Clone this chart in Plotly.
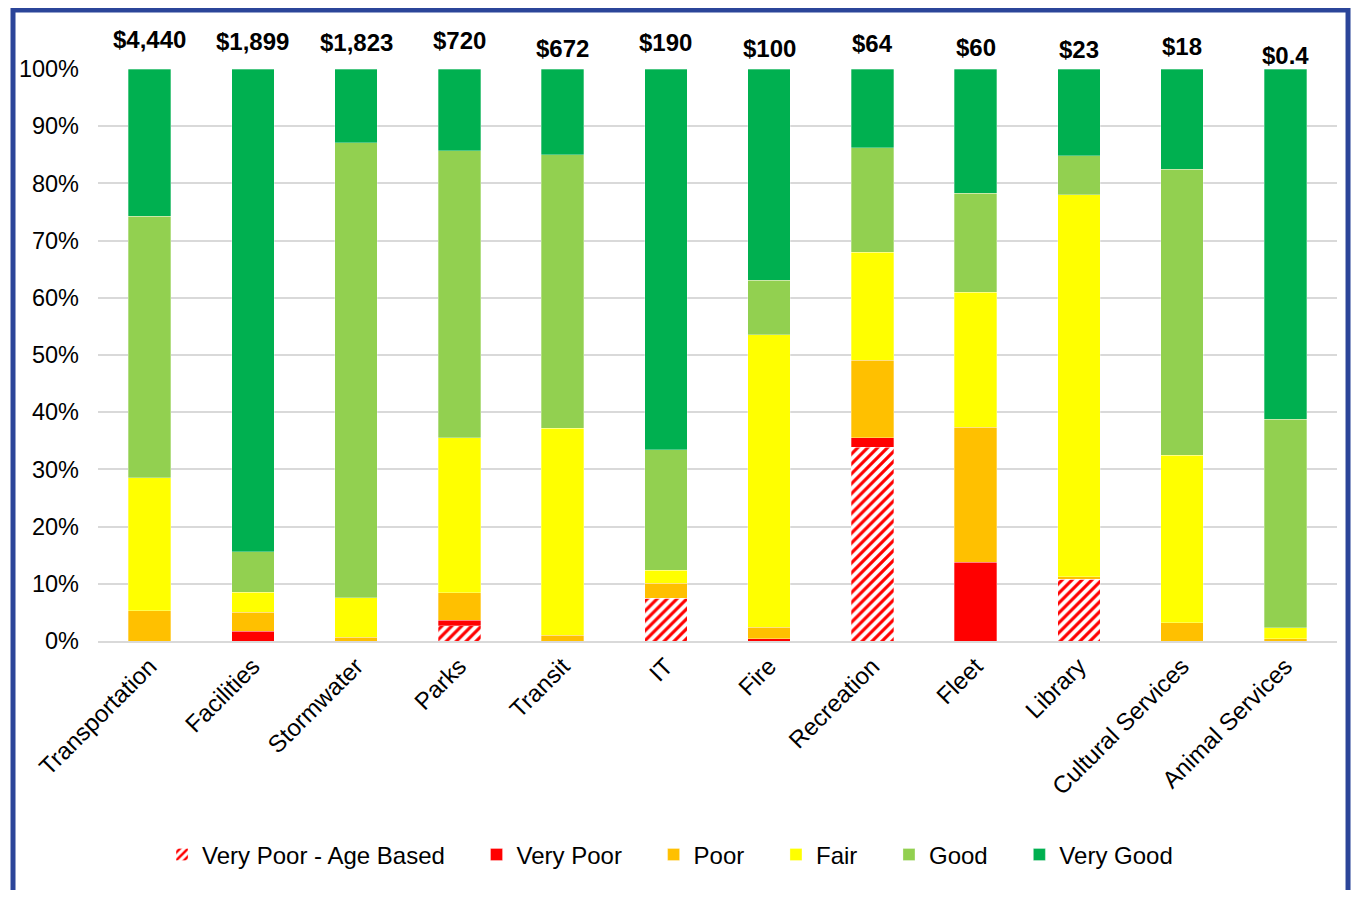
import plotly.graph_objects as go

categories = ["Transportation", "Facilities", "Stormwater", "Parks", "Transit", "IT",
              "Fire", "Recreation", "Fleet", "Library", "Cultural Services", "Animal Services"]
totals = ["$4,440", "$1,899", "$1,823", "$720", "$672", "$190",
          "$100", "$64", "$60", "$23", "$18", "$0.4"]

very_poor_age = [0, 0, 0, 2.7, 0, 7.5, 0, 33.9, 0, 10.8, 0, 0]
very_poor     = [0, 1.7, 0, 0.9, 0, 0, 0.4, 1.6, 13.8, 0, 0, 0]
poor          = [5.3, 3.3, 0.7, 4.8, 1.0, 2.6, 2.0, 13.6, 23.6, 0.4, 3.2, 0.4]
fair          = [23.2, 3.5, 6.9, 27.1, 36.2, 2.3, 51.1, 18.9, 23.6, 66.8, 29.3, 1.9]
good          = [45.8, 7.1, 79.5, 50.2, 47.8, 21.0, 9.6, 18.2, 17.3, 6.8, 50.0, 36.5]
very_good     = [25.7, 84.4, 12.9, 14.3, 15.0, 66.6, 36.9, 13.8, 21.7, 15.2, 17.5, 61.2]

# label vertical offsets (px) to mimic the reference placement
label_shift = [28, 26, 25, 27, 19, 25, 19, 24, 20, 18, 21, 12]

FONT = "Liberation Sans, Arial, sans-serif"
PAD = "\u00a0" * 4

fig = go.Figure()
line = dict(color="rgba(255,255,255,0.6)", width=0.5)

fig.add_trace(go.Bar(x=categories, y=very_poor_age, name="Very Poor - Age Based" + PAD,
                     marker=dict(color="#FFFFFF", line=line,
                                 pattern=dict(shape="/", fgcolor="#FF0000", bgcolor="#FFFFFF",
                                              size=7, solidity=0.45, fillmode="replace"))))
series = [("Very Poor", very_poor, "#FF0000"), ("Poor", poor, "#FFC000"),
          ("Fair", fair, "#FFFF00"), ("Good", good, "#92D050"), ("Very Good", very_good, "#00B050")]
for name, vals, col in series:
    nm = name if name == "Very Good" else name + PAD
    fig.add_trace(go.Bar(x=categories, y=vals, name=nm, marker=dict(color=col, line=line)))

for cat, lab, sh in zip(categories, totals, label_shift):
    fig.add_annotation(x=cat, y=100, text="<b>%s</b>" % lab, showarrow=False,
                       yanchor="bottom", yshift=sh - 14, font=dict(size=24, color="#000000", family=FONT))

fig.add_shape(type="rect", xref="paper", yref="paper", x0=-0.0686, x1=1.0089, y0=-0.47, y1=1.1032,
              line=dict(color="#2B4599", width=5), fillcolor="rgba(0,0,0,0)", layer="above")

fig.update_layout(
    barmode="stack", bargap=0.59,
    width=1351, height=882,
    margin=dict(l=90, r=22, t=61, b=249),
    plot_bgcolor="#FFFFFF", paper_bgcolor="#FFFFFF",
    font=dict(family=FONT, size=23, color="#000000"),
    showlegend=True,
    legend=dict(orientation="h", x=0.4617, xanchor="center", y=-0.374, yanchor="middle",
                font=dict(size=24, family=FONT), itemwidth=30, traceorder="normal"),
)
fig.update_yaxes(range=[0, 100], dtick=10, ticksuffix="%", showgrid=True, gridcolor="#D9D9D9",
                 gridwidth=1.5, zeroline=False, showline=False, ticks="", ticklabelstandoff=18,
                 tickfont=dict(size=23.5, family=FONT))
fig.update_xaxes(showline=True, linecolor="#D9D9D9", linewidth=1.5, tickangle=-45, ticks="",
                 tickfont=dict(size=24, family=FONT))

fig.write_html("out.html", default_width="1351px", default_height="882px")
